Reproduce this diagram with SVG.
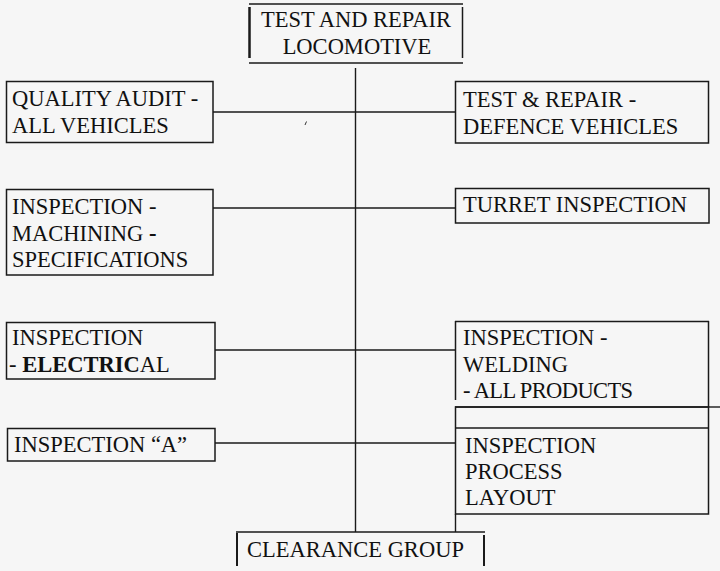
<svg xmlns="http://www.w3.org/2000/svg" width="720" height="571" viewBox="0 0 720 571">
<rect width="720" height="571" fill="#f6f6f6"/>
<g id="connectors" fill="none" stroke="#1a1a1a" stroke-width="1.4">
  <line x1="355.5" y1="68" x2="355.5" y2="532"/>
  <line x1="213" y1="112" x2="455" y2="112"/>
  <line x1="213" y1="208" x2="455" y2="208"/>
  <line x1="215" y1="350" x2="455" y2="350"/>
  <line x1="215" y1="443" x2="455" y2="443"/>
  <line x1="455.5" y1="514" x2="455.5" y2="532"/>
  <line x1="709" y1="407" x2="720" y2="407"/>
  <path d="M305,125 L306.5,121.5" stroke="#333" stroke-width="1"/>
</g>
<g id="n-locomotive">
  <g fill="none" stroke="#1a1a1a" stroke-width="1.5">
    <line x1="249" y1="4" x2="463" y2="4"/>
    <line x1="249" y1="63" x2="463" y2="63"/>
    <line x1="249.5" y1="7" x2="249.5" y2="58" stroke-width="2.5"/>
    <line x1="462.5" y1="7" x2="462.5" y2="58"/>
  </g>
  <text x="356" y="27" text-anchor="middle" font-family="Liberation Serif, serif" font-size="22.5" fill="#111">TEST AND REPAIR</text>
  <text x="357" y="54" text-anchor="middle" font-family="Liberation Serif, serif" font-size="22.5" fill="#111">LOCOMOTIVE</text>
</g>
<g id="n-quality">
  <rect x="6.5" y="81.5" width="206.5" height="61" fill="none" stroke="#1a1a1a" stroke-width="1.5"/>
  <text x="12" y="106" font-family="Liberation Serif, serif" font-size="22.5" fill="#111">QUALITY AUDIT -</text>
  <text x="12" y="133" font-family="Liberation Serif, serif" font-size="22.5" fill="#111">ALL VEHICLES</text>
</g>
<g id="n-defence">
  <rect x="455.5" y="81.5" width="253" height="61.5" fill="none" stroke="#1a1a1a" stroke-width="1.5"/>
  <text x="463" y="107" font-family="Liberation Serif, serif" font-size="22.5" fill="#111">TEST &amp; REPAIR -</text>
  <text x="463" y="134" font-family="Liberation Serif, serif" font-size="22.5" fill="#111">DEFENCE VEHICLES</text>
</g>
<g id="n-machining">
  <rect x="6.5" y="189.5" width="206.5" height="85.5" fill="none" stroke="#1a1a1a" stroke-width="1.5"/>
  <text x="12" y="214" font-family="Liberation Serif, serif" font-size="22.5" fill="#111">INSPECTION -</text>
  <text x="12" y="241" font-family="Liberation Serif, serif" font-size="22.5" fill="#111">MACHINING <tspan font-weight="bold">-</tspan></text>
  <text x="12" y="267" font-family="Liberation Serif, serif" font-size="22.5" fill="#111">SPECIFICATIONS</text>
</g>
<g id="n-turret">
  <rect x="455.5" y="188.5" width="253.5" height="34.5" fill="none" stroke="#1a1a1a" stroke-width="1.5"/>
  <text x="463" y="212" font-family="Liberation Serif, serif" font-size="22.5" fill="#111">TURRET INSPECTION</text>
</g>
<g id="n-electrical">
  <rect x="6.5" y="322.5" width="208.5" height="56.5" fill="none" stroke="#1a1a1a" stroke-width="1.5"/>
  <text x="12" y="345" font-family="Liberation Serif, serif" font-size="22.5" fill="#111">INSPECTION</text>
  <text x="9" y="372" font-family="Liberation Serif, serif" font-size="22.5" fill="#111">- <tspan font-weight="bold">ELECTRIC</tspan>AL</text>
</g>
<g id="n-welding">
  <g fill="none" stroke="#1a1a1a" stroke-width="1.5">
    <line x1="455" y1="321.5" x2="709" y2="321.5"/>
    <line x1="455.5" y1="321" x2="455.5" y2="400"/>
    <line x1="708.5" y1="321" x2="708.5" y2="407"/>
    <line x1="455" y1="407" x2="709" y2="407"/>
  </g>
  <text x="463" y="345" font-family="Liberation Serif, serif" font-size="22.5" fill="#111">INSPECTION -</text>
  <text x="463" y="372" font-family="Liberation Serif, serif" font-size="22.5" fill="#111">WELDING</text>
  <text x="463" y="398" font-family="Liberation Serif, serif" font-size="22.5" fill="#111" letter-spacing="-0.6">- ALL PRODUCTS</text>
</g>
<g id="n-inspection-a">
  <rect x="7.5" y="428.5" width="207.5" height="32.5" fill="none" stroke="#1a1a1a" stroke-width="1.5"/>
  <text x="14" y="452" font-family="Liberation Serif, serif" font-size="22.5" fill="#111">INSPECTION “A”</text>
</g>
<g id="n-process">
  <g fill="none" stroke="#1a1a1a" stroke-width="1.5">
    <rect x="455.5" y="407" width="253" height="107"/>
    <line x1="455" y1="428" x2="709" y2="428"/>
  </g>
  <text x="465" y="453" font-family="Liberation Serif, serif" font-size="22.5" fill="#111">INSPECTION</text>
  <text x="465" y="479" font-family="Liberation Serif, serif" font-size="22.5" fill="#111">PROCESS</text>
  <text x="465" y="505" font-family="Liberation Serif, serif" font-size="22.5" fill="#111">LAYOUT</text>
</g>
<g id="n-clearance">
  <g fill="none" stroke="#1a1a1a" stroke-width="2">
    <line x1="236" y1="532" x2="485" y2="532" stroke-width="1.5"/>
    <line x1="237" y1="533" x2="237" y2="566"/>
    <line x1="484" y1="535" x2="484" y2="566"/>
  </g>
  <text x="247" y="557" font-family="Liberation Serif, serif" font-size="22.5" fill="#111">CLEARANCE GROUP</text>
</g>
</svg>
